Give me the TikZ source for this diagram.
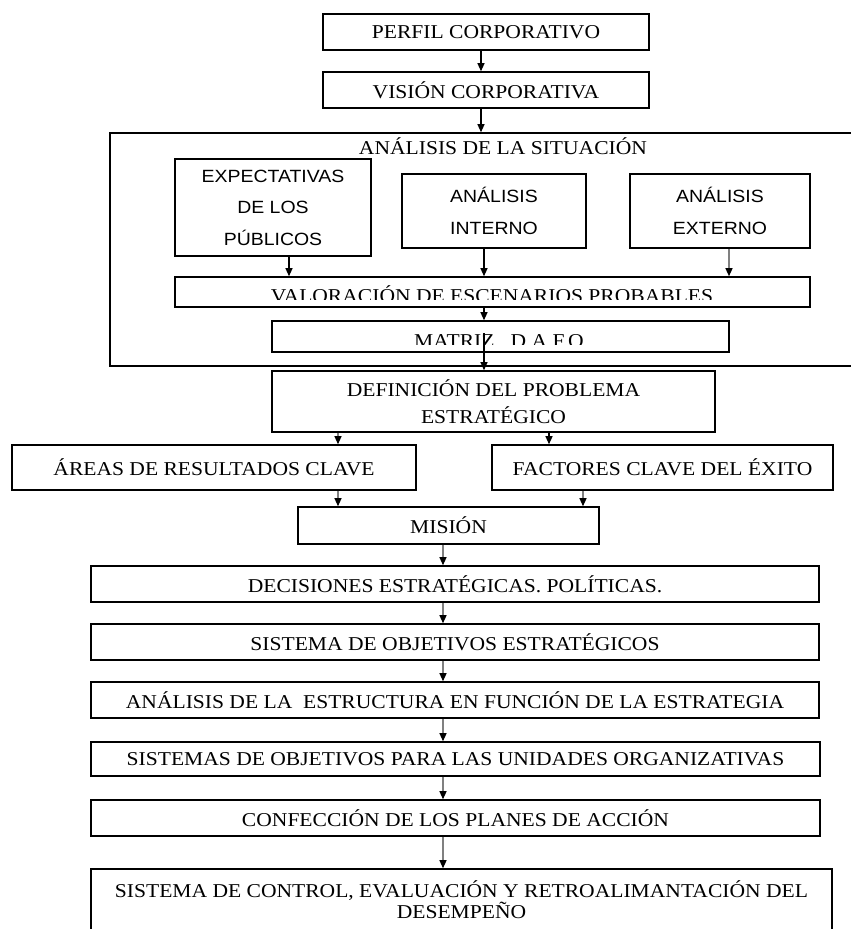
\documentclass[tikz,border=0pt]{standalone}
\usepackage{fontspec}
\setmainfont{Liberation Serif}[FakeStretch=1.1]
\newfontfamily\boxsans{Liberation Sans}[FakeStretch=1.1]
\usetikzlibrary{arrows.meta}
\begin{document}
\begin{tikzpicture}[x=1pt,y=-1pt,
  box/.style={draw=black, line width=1.6pt, inner sep=0pt, align=center,
    font=\fontsize{19.6}{21}\selectfont},
  sbox/.style={box, font=\boxsans\fontsize{17.7}{31.5}\selectfont},
  lbl/.style={inner sep=0pt, align=center, font=\fontsize{19.6}{21}\selectfont},
  arr/.style={line width=1.2pt, draw=black,
    -{Triangle[length=8pt,width=7pt,color=black]}},
  garr/.style={arr, draw=black!50},
]
\useasboundingbox (0,0) rectangle (851,929);
\fill[white] (0,0) rectangle (851,929);

% columns used by the connectors
\coordinate (c481) at (481,0);
\coordinate (c289) at (289,0);
\coordinate (c484) at (484,0);
\coordinate (c729) at (729,0);
\coordinate (c338) at (338,0);
\coordinate (c549) at (549,0);
\coordinate (c583) at (583,0);
\coordinate (c443) at (443,0);

% top of the chain
\node[box, minimum width=326pt, minimum height=36pt] (perfil) at (486,32) {PERFIL CORPORATIVO};
\node[box, minimum width=326pt, minimum height=36pt] (vision) at (486,90) {VISIÓN CORPORATIVA};

% situation analysis block
\node[box, minimum width=790pt, minimum height=233pt] (situ) at (505,249.5) {};
\node[lbl, anchor=base] (situt) at (503,154.5) {ANÁLISIS DE LA SITUACIÓN};
\node[sbox, minimum width=196pt, minimum height=97pt] (expect) at (273,207.5) {EXPECTATIVAS\\DE LOS\\PÚBLICOS};
\node[sbox, minimum width=184pt, minimum height=74pt] (interno) at (494,211) {ANÁLISIS\\INTERNO};
\node[sbox, minimum width=180pt, minimum height=74pt] (externo) at (720,211) {ANÁLISIS\\EXTERNO};
\node[box, minimum width=635pt, minimum height=30pt] (valor) at (492.5,292) {};
\node[box, minimum width=457pt, minimum height=31pt] (matriz) at (500.5,336.5) {};
\begin{scope}
  \clip (175,277) rectangle (810,299);
  \node[lbl, anchor=base] (valtxt) at (492,302) {VALORACIÓN DE ESCENARIOS PROBABLES};
\end{scope}
\begin{scope}
  \clip (272,321) rectangle (729,344);
  \node[lbl, anchor=base] (mattxt) at (499,347) {MATRIZ.\ \ D.A.F.O};
\end{scope}

% problem definition and its two branches
\node[box, minimum width=443pt, minimum height=61pt, font=\fontsize{19.6}{27}\selectfont] (def) at (493.5,401.5) {DEFINICIÓN DEL PROBLEMA\\ESTRATÉGICO};
\node[box, minimum width=404pt, minimum height=45pt] (areas) at (214,467.5) {ÁREAS DE RESULTADOS CLAVE};
\node[box, minimum width=341pt, minimum height=45pt] (factores) at (662.5,467.5) {FACTORES CLAVE DEL ÉXITO};
\node[box, minimum width=301pt, minimum height=37pt] (mision) at (448.5,525.5) {MISIÓN};

% lower chain
\node[box, minimum width=728pt, minimum height=36pt] (decis) at (455,584) {DECISIONES ESTRATÉGICAS. POLÍTICAS.};
\node[box, minimum width=728pt, minimum height=36pt] (sistobj) at (455,642) {SISTEMA DE OBJETIVOS ESTRATÉGICOS};
\node[box, minimum width=728pt, minimum height=36pt] (estruct) at (455,700) {ANÁLISIS DE LA\ \ ESTRUCTURA EN FUNCIÓN DE LA ESTRATEGIA};
\node[box, minimum width=729pt, minimum height=34pt] (unidades) at (455.5,759) {SISTEMAS DE OBJETIVOS PARA LAS UNIDADES ORGANIZATIVAS};
\node[box, minimum width=729pt, minimum height=36pt] (confec) at (455.5,818) {CONFECCIÓN DE LOS PLANES DE ACCIÓN};
\node[box, minimum width=741pt, minimum height=71pt] (control) at (461.5,904.5) {};
\node[lbl] (controltxt) at (461.5,899.5) {SISTEMA DE CONTROL, EVALUACIÓN Y RETROALIMANTACIÓN DEL\\DESEMPEÑO};

% connectors
\draw[arr] (perfil.south -| c481) -- (vision.north -| c481);
\draw[arr] (vision.south -| c481) -- (situ.north -| c481);
\draw[arr] (expect.south -| c289) -- (valor.north -| c289);
\draw[arr] (interno.south -| c484) -- (valor.north -| c484);
\draw[garr] (externo.south -| c729) -- (valor.north -| c729);
\draw[arr] (valor.south -| c484) -- (matriz.north -| c484);
\draw[arr] ([yshift=3.5pt]matriz.center -| c484) -- (def.north -| c484);
\draw[garr] (def.south -| c338) -- (areas.north -| c338);
\draw[arr] (def.south -| c549) -- (factores.north -| c549);
\draw[garr] (areas.south -| c338) -- (mision.north -| c338);
\draw[garr] (factores.south -| c583) -- (mision.north -| c583);
\draw[garr] (mision.south -| c443) -- (decis.north -| c443);
\draw[garr] (decis.south -| c443) -- (sistobj.north -| c443);
\draw[garr] (sistobj.south -| c443) -- (estruct.north -| c443);
\draw[garr] (estruct.south -| c443) -- (unidades.north -| c443);
\draw[garr] (unidades.south -| c443) -- (confec.north -| c443);
\draw[garr] (confec.south -| c443) -- (control.north -| c443);
\end{tikzpicture}
\end{document}
